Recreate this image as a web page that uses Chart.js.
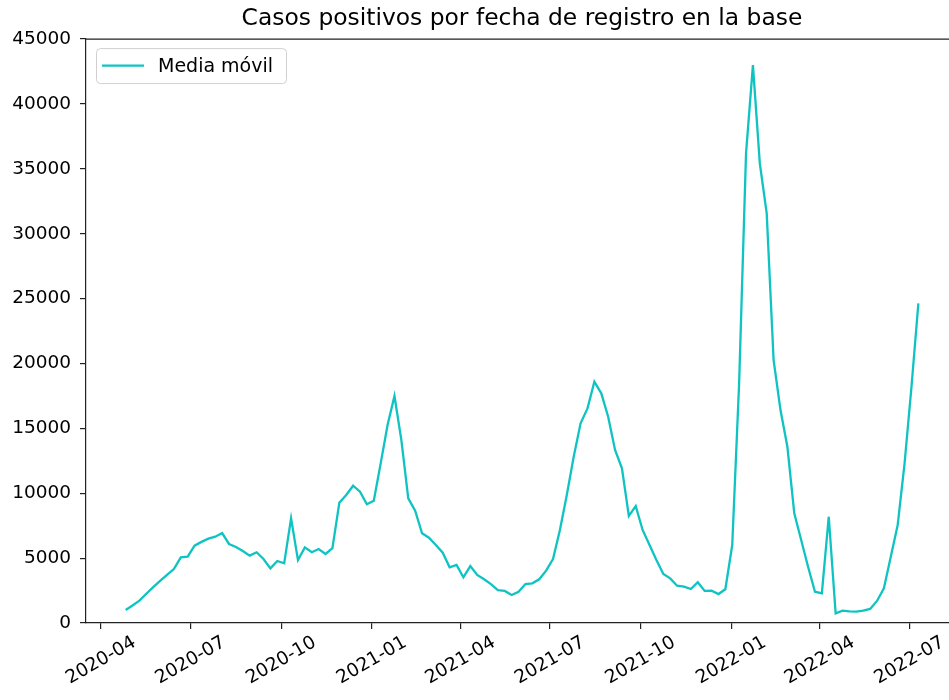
<!DOCTYPE html>
<html lang="es">
<head>
    <meta charset="UTF-8">
    <title>Casos positivos por fecha de registro en la base</title>
    <script src="https://cdn.jsdelivr.net/npm/chart.js@4"></script>
    <style>
        html, body {
            margin: 0;
            padding: 0;
            overflow: hidden;
            background: #fff;
        }
        #wrap {
            width: 960px;
            height: 700px;
        }
    </style>
</head>
<body>
    <div id="wrap"><canvas id="chart" width="960" height="700"></canvas></div>

    <script>
        // Fechas semanales (domingo) de la media móvil
        const fechas = [
            '2020-04-26', '2020-05-03', '2020-05-10', '2020-05-17', '2020-05-24', '2020-05-31',
            '2020-06-07', '2020-06-14', '2020-06-21', '2020-06-28', '2020-07-05', '2020-07-12',
            '2020-07-19', '2020-07-26', '2020-08-02', '2020-08-09', '2020-08-16', '2020-08-23',
            '2020-08-30', '2020-09-06', '2020-09-13', '2020-09-20', '2020-09-27', '2020-10-04',
            '2020-10-11', '2020-10-18', '2020-10-25', '2020-11-01', '2020-11-08', '2020-11-15',
            '2020-11-22', '2020-11-29', '2020-12-06', '2020-12-13', '2020-12-20', '2020-12-27',
            '2021-01-03', '2021-01-10', '2021-01-17', '2021-01-24', '2021-01-31', '2021-02-07',
            '2021-02-14', '2021-02-21', '2021-02-28', '2021-03-07', '2021-03-14', '2021-03-21',
            '2021-03-28', '2021-04-04', '2021-04-11', '2021-04-18', '2021-04-25', '2021-05-02',
            '2021-05-09', '2021-05-16', '2021-05-23', '2021-05-30', '2021-06-06', '2021-06-13',
            '2021-06-20', '2021-06-27', '2021-07-04', '2021-07-11', '2021-07-18', '2021-07-25',
            '2021-08-01', '2021-08-08', '2021-08-15', '2021-08-22', '2021-08-29', '2021-09-05',
            '2021-09-12', '2021-09-19', '2021-09-26', '2021-10-03', '2021-10-10', '2021-10-17',
            '2021-10-24', '2021-10-31', '2021-11-07', '2021-11-14', '2021-11-21', '2021-11-28',
            '2021-12-05', '2021-12-12', '2021-12-19', '2021-12-26', '2022-01-02', '2022-01-09',
            '2022-01-16', '2022-01-23', '2022-01-30', '2022-02-06', '2022-02-13', '2022-02-20',
            '2022-02-27', '2022-03-06', '2022-03-13', '2022-03-20', '2022-03-27', '2022-04-03',
            '2022-04-10', '2022-04-17', '2022-04-24', '2022-05-01', '2022-05-08', '2022-05-15',
            '2022-05-22', '2022-05-29', '2022-06-05', '2022-06-12', '2022-06-19', '2022-06-26',
            '2022-07-03', '2022-07-10'
        ];

        const mediaMovil = [
            1000, 1350, 1720, 2250, 2770, 3240, 3700, 4160, 5060, 5110,
            5960, 6250, 6500, 6650, 6930, 6090, 5860, 5550, 5190, 5450,
            4930, 4210, 4780, 4600, 8070, 4850, 5830, 5450, 5700, 5320,
            5760, 9270, 9860, 10580, 10120, 9150, 9420, 12300, 15260, 17490,
            14100, 9610, 8650, 6910, 6570, 6010, 5420, 4290, 4470, 3520,
            4390, 3700, 3370, 3000, 2540, 2470, 2160, 2410, 3000, 3060,
            3370, 4030, 4930, 7170, 9860, 12810, 15390, 16540, 18590, 17700,
            15900, 13330, 11920, 8250, 9010, 7170, 6010, 4850, 3780, 3440,
            2870, 2800, 2620, 3140, 2470, 2490, 2230, 2600, 6010, 18500,
            36190, 42990, 35420, 31570, 20260, 16410, 13580, 8450, 6400, 4340,
            2410, 2290, 8190, 750, 950, 900, 880, 950, 1080, 1700,
            2670, 5100, 7550, 12300, 18200, 24630
        ];

        const etiquetasX = ['2020-04', '2020-07', '2020-10', '2021-01', '2021-04',
                            '2021-07', '2021-10', '2022-01', '2022-04', '2022-07'];
        const ticksY = [0, 5000, 10000, 15000, 20000, 25000, 30000, 35000, 40000, 45000];

        const COLOR_LINEA = '#0fc3c3';
        const FUENTE = 'DejaVu Sans';

        // fecha 'YYYY-MM-DD' -> número de día
        function dia(s) {
            const p = s.split('-').map(Number);
            return Date.UTC(p[0], p[1] - 1, p[2] || 1) / 86400000;
        }

        const puntos = fechas.map((f, i) => ({ x: dia(f), y: mediaMovil[i] }));
        const x0 = dia(fechas[0]);
        const x1 = dia(fechas[fechas.length - 1]);
        const margen = (x1 - x0) * 0.05; // margen tipo matplotlib

        Chart.defaults.font.family = FUENTE;
        Chart.defaults.color = '#000';

        // Marco superior (spine) como en matplotlib
        const marco = {
            id: 'marco',
            afterDraw(chart) {
                const { ctx, chartArea } = chart;
                ctx.save();
                ctx.strokeStyle = '#222';
                ctx.lineWidth = 1.2;
                ctx.beginPath();
                ctx.moveTo(chartArea.left, chartArea.top);
                ctx.lineTo(chartArea.right, chartArea.top);
                ctx.lineTo(chartArea.right, chartArea.bottom);
                ctx.stroke();
                ctx.restore();
            }
        };

        // Etiquetas del eje x giradas 30 grados, centradas en cada marca
        const etiquetasRotadas = {
            id: 'etiquetasRotadas',
            afterDraw(chart) {
                const { ctx, chartArea } = chart;
                const xs = chart.scales.x;
                const size = 18.5;
                const ang = 30 * Math.PI / 180;
                ctx.save();
                ctx.font = size + 'px ' + FUENTE;
                ctx.fillStyle = '#000';
                ctx.textAlign = 'center';
                ctx.textBaseline = 'middle';
                xs.ticks.forEach((t, i) => {
                    const txt = etiquetasX[i];
                    const w = ctx.measureText(txt).width;
                    const h = size * 1.16;
                    const alto = w * Math.sin(ang) + h * Math.cos(ang);
                    const px = xs.getPixelForValue(t.value);
                    const cy = chartArea.bottom + 6 + 3 + alto / 2;
                    ctx.save();
                    ctx.translate(px, cy);
                    ctx.rotate(-ang);
                    ctx.fillText(txt, 0, 0);
                    ctx.restore();
                });
                ctx.restore();
            }
        };

        // Leyenda dentro del área del gráfico (arriba a la izquierda)
        const leyenda = {
            id: 'leyenda',
            afterDraw(chart) {
                const { ctx, chartArea } = chart;
                const ds = chart.data.datasets[0];
                const bx = chartArea.left + 10;
                const by = chartArea.top + 9;
                const bw = 190, bh = 35, r = 4;
                ctx.save();
                ctx.beginPath();
                ctx.roundRect(bx + 0.5, by + 0.5, bw, bh, r);
                ctx.fillStyle = 'rgba(255,255,255,0.8)';
                ctx.fill();
                ctx.strokeStyle = '#d0d0d0';
                ctx.lineWidth = 1;
                ctx.stroke();

                const ly = by + bh / 2;
                ctx.beginPath();
                ctx.moveTo(bx + 6, ly);
                ctx.lineTo(bx + 48, ly);
                ctx.strokeStyle = ds.borderColor;
                ctx.lineWidth = ds.borderWidth;
                ctx.stroke();

                ctx.font = '19px ' + FUENTE;
                ctx.fillStyle = '#000';
                ctx.textAlign = 'left';
                ctx.textBaseline = 'middle';
                ctx.fillText(ds.label, bx + 62, ly + 1);
                ctx.restore();
            }
        };

        new Chart(document.getElementById('chart'), {
            type: 'line',
            data: {
                datasets: [{
                    label: 'Media móvil',
                    data: puntos,
                    borderColor: COLOR_LINEA,
                    backgroundColor: COLOR_LINEA,
                    borderWidth: 2.3,
                    pointRadius: 0,
                    tension: 0,
                    fill: false
                }]
            },
            options: {
                responsive: false,
                animation: false,
                devicePixelRatio: 1,
                layout: { padding: { left: 0, right: 2, top: 0, bottom: 0 } },
                plugins: {
                    legend: { display: false },
                    tooltip: { enabled: false },
                    title: {
                        display: true,
                        text: 'Casos positivos por fecha de registro en la base',
                        fullSize: false,
                        color: '#000',
                        font: { family: FUENTE, size: 23.4, weight: 'normal', lineHeight: 1.2 },
                        padding: { top: 5, bottom: 6 }
                    }
                },
                scales: {
                    x: {
                        type: 'linear',
                        min: x0 - margen,
                        max: x1 + margen,
                        afterBuildTicks: (s) => {
                            s.ticks = etiquetasX.map(l => ({ value: dia(l) }));
                        },
                        afterFit: (s) => { s.height = 77; },
                        ticks: { display: false },
                        grid: {
                            drawOnChartArea: false,
                            drawTicks: true,
                            tickLength: 6,
                            color: '#222',
                            lineWidth: 1.2
                        },
                        border: { display: true, color: '#222', width: 1.2 }
                    },
                    y: {
                        min: 0,
                        max: 45000,
                        afterBuildTicks: (s) => {
                            s.ticks = ticksY.map(v => ({ value: v }));
                        },
                        afterFit: (s) => { s.width = 86; },
                        ticks: {
                            padding: 9,
                            font: { family: FUENTE, size: 18.5 },
                            color: '#000',
                            callback: (v) => String(v)
                        },
                        grid: {
                            drawOnChartArea: false,
                            drawTicks: true,
                            tickLength: 6,
                            color: '#222',
                            lineWidth: 1.2
                        },
                        border: { display: true, color: '#222', width: 1.2 }
                    }
                }
            },
            plugins: [marco, etiquetasRotadas, leyenda]
        });
    </script>
</body>
</html>
